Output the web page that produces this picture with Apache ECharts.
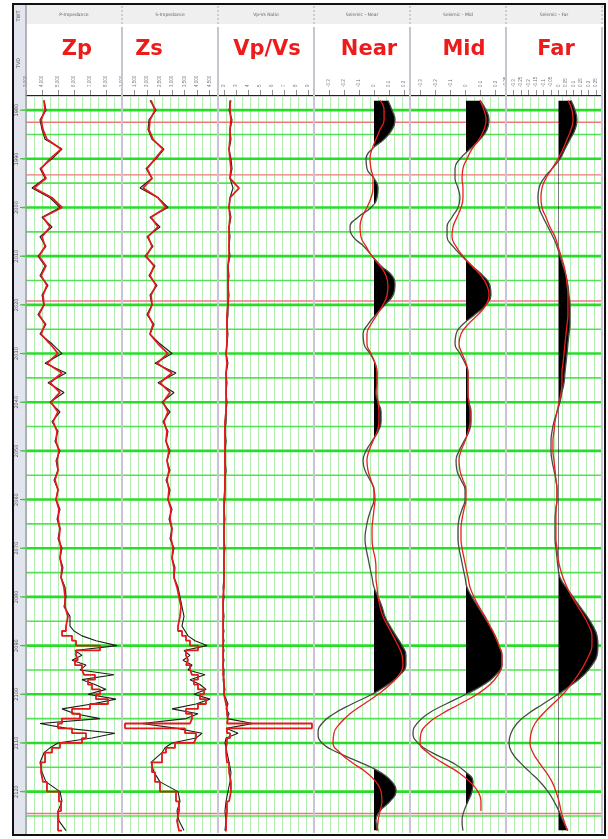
<!DOCTYPE html>
<html><head><meta charset="utf-8">
<script src="https://cdn.jsdelivr.net/npm/echarts/dist/echarts.min.js"></script>
<style>html,body{margin:0;padding:0;background:#fff;}#c{width:608px;height:839px;}</style>
</head><body><div id="c"></div>
<script>
// ---------------- DATA ----------------
const trackNames = ['Zp','Zs','Vp/Vs','Near','Mid','Far'];
const trackTitles = ['P-Impedance','S-Impedance','Vp-Vs Ratio','Seismic - Near','Seismic - Mid','Seismic - Far'];

const depthMajor = [1980,1990,2000,2010,2020,2030,2040,2050,2060,2070,2080,2090,2100,2110,2120];
const depthMinor = [1985,1995,2005,2015,2025,2035,2045,2055,2065,2075,2085,2095,2105,2115,2125];
const horizonDepths = [1982.5,1993.3,2019.2,2124.5];

const depthLog = [1978,1980,1982,1984,1986,1988,1990,1992,1994,1996,1998,2000,2002,2004,2006,2008,2010,2012,2014,2016,2018,2020,2022,2024,2026,2028,2030,2032,2034,2036,2038,2040,2042,2044,2046,2048,2050,2052,2054,2056,2058,2060,2062,2064,2066,2068,2070,2072,2074,2076,2078,2080,2082,2084,2086,
2087,2088,2089,2090,2091,2092,2093,2094,2095,2096,2097,2098,2099,2100,2101,2102,2103,2104,2105,2106,2107,2108,2109,2110,2111,2112,
2114,2116,2118,2120,2122,2124,2126,2128];

const zpBlack = [4125,4250,3875,4000,4190,5250,4625,3875,4190,3375,4500,5125,4000,4625,3875,4250,3750,4190,3875,4375,4000,4125,3750,4250,3875,4625,5250,4190,5500,4375,5375,4500,5125,4625,5000,4810,5125,4875,5000,4750,5000,4875,5125,4940,5125,5000,5250,5125,5310,5190,5440,5500,5375,5750,5750,
6000,6500,7375,8690,6060,6500,5875,6750,6375,8500,6500,7310,8000,6875,8625,7125,5250,6060,7625,3875,5560,8560,7125,5000,4500,4125,
3875,4000,4250,5125,5250,5000,5060,5500];
const zpRed = [4125,4190,3940,4060,4310,5190,4500,3940,4250,3500,4625,5250,4060,4500,4000,4190,3810,4250,3940,4310,4060,4125,3810,4190,3940,4500,5000,4310,5250,4500,5125,4560,5000,4690,4940,4875,5060,4940,5000,4810,5000,4875,5060,5000,5125,5060,5190,5125,5250,5190,5375,5440,5440,5625,5500,
5250,5875,6125,7625,6125,6250,6060,6500,6625,7310,6875,7125,7625,7375,8125,7000,5875,6375,5250,5000,5875,6750,6500,5125,4625,4190,
3940,4060,4310,5060,5190,5000,5000,5250];

const zsBlack = [2120,2360,2080,2040,2200,2680,2360,1960,2200,1720,2440,2840,2120,2520,2000,2240,1920,2320,2080,2400,2120,2200,2000,2280,2120,2520,3000,2320,3160,2440,3080,2600,2920,2640,2840,2760,2920,2800,2920,2760,2920,2840,3000,2880,3000,2920,3080,3000,3120,3080,3240,3320,3400,3480,3400,
3520,3640,3920,4400,3480,3720,3440,3800,3640,4320,3720,4120,4360,3880,4520,3960,3000,4040,3560,1800,3200,4200,3960,3000,2720,2600,
2160,2280,2520,3240,3320,3200,3280,3480];
const zsRed = [2160,2320,2120,2080,2240,2640,2320,2000,2200,1840,2440,2760,2160,2440,2040,2200,1960,2280,2120,2360,2160,2200,2040,2240,2120,2440,2840,2400,3000,2520,2920,2640,2840,2680,2800,2760,2880,2800,2880,2800,2880,2840,2960,2920,3000,2960,3040,3000,3080,3080,3200,3280,3360,3320,3240,
3400,3560,3720,4040,3560,3640,3560,3720,3800,4040,3880,4040,4280,4120,4360,4040,3560,3800,3720,1120,3520,3960,3880,3120,2760,2600,
2200,2320,2520,3160,3280,3200,3280,3400];

const vpvsBlack = [2.58,2.42,2.67,2.5,2.58,2.42,2.58,2.67,2.5,2.75,2.5,2.42,2.58,2.42,2.5,2.42,2.5,2.33,2.42,2.33,2.42,2.33,2.33,2.25,2.33,2.25,2.17,2.33,2.17,2.25,2.17,2.25,2.17,2.17,2.08,2.17,2.08,2.08,2.17,2.08,2.08,2.08,2.0,2.08,2.0,2.0,2.08,2.0,2.0,2.0,1.92,2.0,1.92,2.0,1.92,
2.0,1.92,2.0,1.92,2.0,1.92,2.0,1.92,2.0,2.0,1.92,2.0,2.08,2.0,2.17,2.33,2.17,2.42,2.25,4.42,2.17,3.17,2.17,2.08,2.17,2.25,
2.42,2.58,2.5,2.33,2.17,2.08,2.17,2.08];
const vpvsRed = [2.5,2.5,2.58,2.5,2.5,2.42,2.5,2.58,2.5,3.25,2.5,2.42,2.5,2.42,2.42,2.42,2.42,2.33,2.33,2.33,2.33,2.33,2.25,2.25,2.25,2.25,2.17,2.25,2.17,2.17,2.17,2.17,2.17,2.08,2.08,2.08,2.08,2.08,2.08,2.08,2.08,2.0,2.0,2.0,2.0,2.0,2.0,2.0,2.0,2.0,2.0,1.92,1.92,1.92,1.92,
1.92,1.92,1.92,1.92,1.92,1.92,1.92,1.92,1.92,2.0,2.0,2.0,2.0,2.08,2.17,2.25,2.25,2.33,2.25,9.33,2.25,2.5,2.25,2.17,2.17,2.25,
2.42,2.58,2.58,2.42,2.25,2.17,2.17,2.08];

const depthSeis = [1978,1980,1982,1984,1986,1988,1990,1992,1994,1996,1998,2000,2002,2004,2006,2008,2010,2012,2014,2016,2018,2020,2022,2024,2026,2028,2030,2032,2034,2036,2038,2040,2042,2044,2046,2048,2050,2052,2054,2056,2058,2060,2062,2064,2066,2068,2070,2072,2074,2076,2078,2080,2082,2084,2086,2088,2090,2092,2094,2096,2098,2100,2102,2104,2106,2108,2110,2112,2114,2116,2118,2120,2122,2124,2126,2128];

const nearBlack = [0.093,0.12,0.14,0.12,0.067,-0.013,-0.053,-0.047,0,0.027,0.02,-0.02,-0.107,-0.16,-0.14,-0.067,-0.013,0.047,0.12,0.14,0.127,0.073,0.013,-0.04,-0.073,-0.067,-0.027,0.007,0.02,0.02,0.013,0.027,0.047,0.047,0.027,-0.013,-0.053,-0.073,-0.06,-0.027,0,0,-0.02,-0.04,-0.053,-0.06,-0.053,-0.04,-0.027,-0.013,0,0.027,0.053,0.073,0.107,0.147,0.187,0.213,0.213,0.173,0.093,-0.013,-0.147,-0.267,-0.347,-0.373,-0.347,-0.24,-0.093,0.04,0.12,0.147,0.107,0.04,0.013,0.027];
const nearRed = [0.04,0.067,0.067,0.04,0.013,-0.013,-0.027,-0.02,-0.007,-0.007,-0.02,-0.047,-0.08,-0.093,-0.087,-0.053,-0.013,0.04,0.08,0.093,0.087,0.06,0.02,-0.02,-0.047,-0.047,-0.02,0.007,0.02,0.02,0.02,0.027,0.033,0.033,0.02,-0.007,-0.033,-0.047,-0.04,-0.02,0,0.007,0,-0.007,-0.013,-0.013,-0.007,0.007,0.013,0.013,0.02,0.027,0.04,0.06,0.093,0.127,0.16,0.187,0.193,0.167,0.107,0.027,-0.067,-0.16,-0.227,-0.267,-0.273,-0.227,-0.147,-0.053,0.013,0.047,0.053,0.04,0.027,0.02];
const midBlack = [0.097,0.137,0.157,0.143,0.097,0.03,-0.037,-0.07,-0.07,-0.05,-0.037,-0.05,-0.09,-0.123,-0.123,-0.083,-0.023,0.043,0.117,0.163,0.17,0.137,0.063,-0.017,-0.063,-0.07,-0.037,-0.003,0.017,0.017,0.017,0.023,0.037,0.037,0.023,-0.01,-0.043,-0.063,-0.057,-0.03,-0.003,-0.003,-0.023,-0.043,-0.05,-0.05,-0.043,-0.03,-0.017,-0.003,0.01,0.043,0.083,0.123,0.163,0.197,0.223,0.243,0.243,0.203,0.123,0.003,-0.13,-0.25,-0.323,-0.35,-0.317,-0.223,-0.09,0.003,0.05,0.043,0.017,-0.01,-0.023,-0.017];
const midRed = [0.097,0.123,0.137,0.123,0.09,0.043,0.01,-0.017,-0.023,-0.017,-0.017,-0.03,-0.057,-0.083,-0.09,-0.063,-0.017,0.043,0.103,0.143,0.157,0.137,0.083,0.017,-0.03,-0.043,-0.023,0.003,0.017,0.017,0.017,0.023,0.03,0.03,0.017,-0.003,-0.03,-0.043,-0.037,-0.017,0.003,0.003,-0.01,-0.023,-0.03,-0.03,-0.023,-0.01,0.003,0.017,0.03,0.057,0.09,0.13,0.163,0.197,0.223,0.243,0.243,0.217,0.163,0.077,-0.037,-0.157,-0.25,-0.297,-0.303,-0.25,-0.157,-0.05,0.03,0.083,0.103,0.103,null,null];
const farBlack = [0.083,0.11,0.123,0.11,0.077,0.043,0.01,-0.043,-0.097,-0.13,-0.137,-0.13,-0.103,-0.07,-0.037,-0.01,0.01,0.03,0.05,0.063,0.07,0.077,0.077,0.077,0.07,0.063,0.057,0.05,0.043,0.037,0.023,0.01,-0.01,-0.03,-0.043,-0.05,-0.05,-0.043,-0.03,-0.017,-0.01,-0.01,-0.017,-0.023,-0.023,-0.023,-0.017,-0.01,-0.003,0.01,0.05,0.097,0.143,0.19,0.23,0.257,0.263,0.257,0.223,0.17,0.09,-0.003,-0.103,-0.203,-0.277,-0.317,-0.33,-0.31,-0.257,-0.19,-0.123,-0.07,-0.03,0.003,0.03,0.063];
const farRed = [0.063,0.09,0.097,0.083,0.057,0.03,-0.003,-0.043,-0.083,-0.11,-0.117,-0.11,-0.083,-0.057,-0.023,-0.003,0.017,0.037,0.05,0.057,0.063,0.063,0.063,0.057,0.05,0.043,0.037,0.03,0.023,0.023,0.017,0.003,-0.01,-0.023,-0.03,-0.037,-0.037,-0.03,-0.023,-0.017,-0.01,-0.01,-0.017,-0.017,-0.017,-0.017,-0.01,-0.003,0.01,0.03,0.057,0.09,0.13,0.17,0.203,0.223,0.223,0.203,0.17,0.13,0.083,0.03,-0.037,-0.103,-0.157,-0.183,-0.19,-0.17,-0.13,-0.083,-0.043,-0.017,0.003,0.017,0.037,0.057];

// header tick scales
const headerMin = [3000,1000,1.5,-0.4,-0.37,-0.35];
const headerMax = [9000,4840,9.5,0.24,0.27,0.29];
const headerInterval = [1000,500,null,0.1,null,0.05];

// ---------------- LAYOUT ----------------
const TRACK_LEFT = [26,122,218,314,410,506];
const TRACK_W = 96;
const LABEL_X = [77,149,267,369,464,556];
const PLOT_TOP = 97, PLOT_H = 736;
const DEPTH_MIN = 1977.3, DEPTH_MAX = 2128.5;
function depthToY(d){ return PLOT_TOP + (d - DEPTH_MIN) / (DEPTH_MAX - DEPTH_MIN) * PLOT_H; }
const seisTop = depthToY(depthSeis[0]);
const seisH = depthToY(depthSeis[depthSeis.length-1]) - seisTop;

const grids=[], xAxes=[], yAxes=[], series=[];
// background grids 0-5
for (let i=0;i<6;i++){
  grids.push({left:TRACK_LEFT[i], top:PLOT_TOP, width:TRACK_W, height:PLOT_H});
  xAxes.push({type:'value', gridIndex:i, min:0, max:12, interval:1,
    axisLine:{show:false}, axisTick:{show:false}, axisLabel:{show:false},
    splitLine:{show:true, lineStyle:{color:'#b2eeb2', width:1}}});
  yAxes.push({type:'value', gridIndex:i, min:DEPTH_MIN, max:DEPTH_MAX, inverse:true, show:false});
}
// log data axes (xAxis 6,7,8)
xAxes.push({type:'value', gridIndex:0, min:3000, max:9000, show:false});
xAxes.push({type:'value', gridIndex:1, min:1000, max:4840, show:false});
xAxes.push({type:'value', gridIndex:2, min:1.5, max:9.5, show:false});
// seismic overlay grids 6,7,8 (xAxis 9,10,11 ; yAxis 6,7,8)
for (let j=0;j<3;j++){
  grids.push({left:TRACK_LEFT[3+j], top:seisTop, width:TRACK_W, height:seisH});
  xAxes.push({type:'value', gridIndex:6+j, min:headerMin[3+j], max:headerMax[3+j], show:false});
  yAxes.push({type:'category', gridIndex:6+j, data:depthSeis.map(String), inverse:true, boundaryGap:false, show:false});
}
// header grids 9-14 (xAxis 12-17 ; yAxis 9-14)
for (let i=0;i<6;i++){
  grids.push({left:TRACK_LEFT[i], top:90, width:TRACK_W, height:5});
  const ax = {type:'value', gridIndex:9+i, position:'top', min:headerMin[i], max:headerMax[i],
    axisLine:{show:true, lineStyle:{color:'#222', width:1.2}},
    axisTick:{show:true, length:5, lineStyle:{color:'#777', width:0.8}},
    axisLabel:{show:true, fontSize:4.5, color:'#777', rotate:90, margin:3,
      showMinLabel: (i===0 || i===1 || i===5), showMaxLabel:false},
    splitLine:{show:false}};
  if (headerInterval[i] !== null) ax.interval = headerInterval[i]; else ax.splitNumber = (i===2?8:6);
  xAxes.push(ax);
  yAxes.push({type:'value', gridIndex:9+i, show:false});
}

// depth grid lines (custom, drawn through each track's scales)
const lineKinds = [
  {stroke:'#55e055', w:1.6},
  {stroke:'#2adc2a', w:2.6},
  {stroke:'#f07878', w:1.4}
];
const depthLineData = [].concat(
  depthMinor.map(d=>[d,0]), depthMajor.map(d=>[d,1]), horizonDepths.map(d=>[d,2]));
for (let i=0;i<6;i++){
  series.push({type:'custom', xAxisIndex:i, yAxisIndex:i, silent:true, z:1,
    data:depthLineData, encode:{x:1, y:0},
    renderItem:function(params, api){
      const d = api.value(0), k = api.value(1);
      const p1 = api.coord([0,d]), p2 = api.coord([12,d]);
      const st = lineKinds[k];
      return {type:'line', shape:{x1:p1[0], y1:p1[1], x2:p2[0], y2:p2[1]},
        style:{stroke:st.stroke, lineWidth:st.w}};
    }});
}
// depth labels
series.push({type:'custom', xAxisIndex:0, yAxisIndex:0, silent:true, z:3,
  data:depthMajor.map(d=>[d]), encode:{y:0},
  renderItem:function(params, api){
    const d = api.value(0);
    const p = api.coord([0,d]);
    return {type:'group', children:[
      {type:'line', shape:{x1:p[0]-4, y1:p[1], x2:p[0], y2:p[1]}, style:{stroke:'#2adc2a', lineWidth:1.6}},
      {type:'line', shape:{x1:p[0]-6, y1:p[1], x2:p[0]-4, y2:p[1]}, style:{stroke:'#666', lineWidth:0.8}},
      {type:'text', x:p[0]-9.5, y:p[1], rotation:Math.PI/2,
        style:{text:String(d), fontSize:5, fontFamily:'DejaVu Sans', fill:'#555', align:'center', verticalAlign:'middle'}}
    ]};
  }});

// logs
function logPairs(vals, from, to){
  const out=[]; for(let k=from;k<=to;k++) out.push([vals[k], depthLog[k]]); return out;
}
const SPLIT = 54, LAST = depthLog.length-1;
const logDefs = [[zpBlack,zpRed,6,0],[zsBlack,zsRed,7,1],[vpvsBlack,vpvsRed,8,2]];
logDefs.forEach(function(def){
  const base = {type:'line', xAxisIndex:def[2], yAxisIndex:def[3], symbol:'none', showSymbol:false, silent:true, animation:false};
  series.push(Object.assign({}, base, {data:logPairs(def[0],0,LAST), z:2, lineStyle:{color:'#1e1e1e', width:1.1}}));
  series.push(Object.assign({}, base, {data:logPairs(def[1],0,SPLIT), z:3, lineStyle:{color:'#e3191b', width:1.8}}));
  series.push(Object.assign({}, base, {data:logPairs(def[1],SPLIT,LAST), step:'start', z:3, lineStyle:{color:'#e3191b', width:1.8}}));
});

// seismic
const seisBlack = [nearBlack, midBlack, farBlack];
const seisRed = [nearRed, midRed, farRed];
const fillIdx = [];
for (let j=0;j<3;j++){
  const base = {type:'line', xAxisIndex:9+j, yAxisIndex:6+j, symbol:'none', showSymbol:false, silent:true, smooth:0.5};
  fillIdx.push(series.length);
  series.push(Object.assign({}, base, {data:seisBlack[j].map((a,k)=>[a,k]), z:2,
    lineStyle:{width:0, opacity:0}, areaStyle:{opacity:1}}));
  series.push(Object.assign({}, base, {data:seisBlack[j].map((a,k)=>[a,k]), z:3,
    lineStyle:{color:'#4a4a4a', width:1.3}}));
  series.push(Object.assign({}, base, {data:seisRed[j].map((a,k)=>[a,k]), z:4,
    lineStyle:{color:'#e8201c', width:1.3}}));
}

// graphics: frame, header texts, dividers
const graphics = [];
graphics.push({type:'rect', z:0, silent:true, shape:{x:14,y:5,width:12,height:830}, style:{fill:'#e2e5ee'}});
graphics.push({type:'rect', z:0, silent:true, shape:{x:26,y:5,width:578,height:19}, style:{fill:'#efefef'}});
graphics.push({type:'line', z:0, silent:true, shape:{x1:26,y1:96.5,x2:603,y2:96.5}, style:{stroke:'#d4d4d4', lineWidth:1}});
graphics.push({type:'line', z:5, silent:true, shape:{x1:26,y1:5,x2:26,y2:835}, style:{stroke:'#9c9ca6', lineWidth:1.5}});
const divs = [122,218,314,410,506,602];
divs.forEach(function(x){
  graphics.push({type:'line', z:5, silent:true, shape:{x1:x,y1:6,x2:x,y2:26}, style:{stroke:'#aaa', lineWidth:1, lineDash:[2,2]}});
  graphics.push({type:'line', z:5, silent:true, shape:{x1:x,y1:27,x2:x,y2:PLOT_TOP+PLOT_H}, style:{stroke:'#c6c6ce', lineWidth:2}});
});
for (let i=0;i<6;i++){
  graphics.push({type:'text', z:6, silent:true, x:TRACK_LEFT[i]+TRACK_W/2, y:15,
    style:{text:trackTitles[i], fontSize:4.5, fontFamily:'DejaVu Sans', fill:'#666', align:'center', verticalAlign:'middle', textAlign:'center', textVerticalAlign:'middle'}});
  graphics.push({type:'text', z:6, silent:true, x:LABEL_X[i], y:50,
    style:{text:trackNames[i], fontSize:21, fontWeight:'bold', fontFamily:'DejaVu Sans', fill:'#ee1b1b', align:'center', verticalAlign:'middle', textAlign:'center', textVerticalAlign:'middle'}});
}
graphics.push({type:'text', z:6, silent:true, x:19, y:16, rotation:Math.PI/2,
  style:{text:'TWT', fontSize:5, fontFamily:'DejaVu Sans', fill:'#555', align:'center', verticalAlign:'middle', textAlign:'center', textVerticalAlign:'middle'}});
graphics.push({type:'text', z:6, silent:true, x:19, y:63, rotation:Math.PI/2,
  style:{text:'TVD', fontSize:5, fontFamily:'DejaVu Sans', fill:'#555', align:'center', verticalAlign:'middle', textAlign:'center', textVerticalAlign:'middle'}});
graphics.push({type:'rect', z:10, silent:true, shape:{x:13,y:4,width:592,height:831}, style:{fill:'none', stroke:'#111', lineWidth:2}});

const chart = echarts.init(document.getElementById('c'), null, {renderer:'canvas'});
chart.setOption({
  backgroundColor:'#ffffff',
  animation:false,
  grid:grids, xAxis:xAxes, yAxis:yAxes, series:series,
  visualMap:[{type:'piecewise', show:false, seriesIndex:fillIdx, dimension:0,
    pieces:[{min:-1, max:0, color:'rgba(0,0,0,0)'},{min:0, max:1, color:'#000000'}]}],
  graphic:{elements:graphics}
});
</script></body></html>
